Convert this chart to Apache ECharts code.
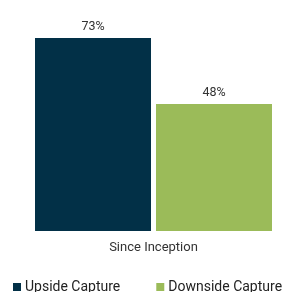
<!DOCTYPE html>
<html>
<head>
<meta charset="utf-8">
<script src="https://cdn.jsdelivr.net/npm/echarts@6/dist/echarts.min.js"></script>
<style>
  html, body { margin: 0; padding: 0; background: #fff; }
  #chart { width: 289px; height: 292px; }
</style>
</head>
<body>
<div id="chart"></div>
<script>
var categories = ['Since Inception'];
var seriesNames = ['Upside Capture', 'Downside Capture'];
var upside = [73];
var downside = [48];

var option = {
    animation: false,
    textStyle: { fontFamily: 'Roboto' },
    grid: { left: 35, right: 17, top: 19.5, bottom: 61 },
    legend: {
      left: 8,
      top: 275,
      itemWidth: 8,
      itemHeight: 8,
      itemGap: 36,
      icon: 'rect',
      textStyle: { fontSize: 14, color: '#222', padding: [0, 0, 0, -1] },
      data: seriesNames
    },
    xAxis: {
      type: 'category',
      data: categories,
      axisLine: { show: false },
      axisTick: { show: false },
      axisLabel: { fontSize: 13, color: '#333', margin: 10 }
    },
    yAxis: {
      type: 'value',
      min: 0,
      max: 80,
      show: false
    },
    series: [{
      name: seriesNames[0],
      type: 'bar',
      data: upside,
      barWidth: 116,
      barGap: '4.3%',
      itemStyle: { color: '#023047' },
      label: { show: true, position: 'top', formatter: '{c}%', fontSize: 12.5, color: '#333', distance: 5 }
    }, {
      name: seriesNames[1],
      type: 'bar',
      data: downside,
      barWidth: 116,
      itemStyle: { color: '#9bbb59' },
      label: { show: true, position: 'top', formatter: '{c}%', fontSize: 12.5, color: '#333', distance: 5 }
    }]
};

var myChart = echarts.init(document.getElementById('chart'));
myChart.setOption(option);
</script>
</body>
</html>
